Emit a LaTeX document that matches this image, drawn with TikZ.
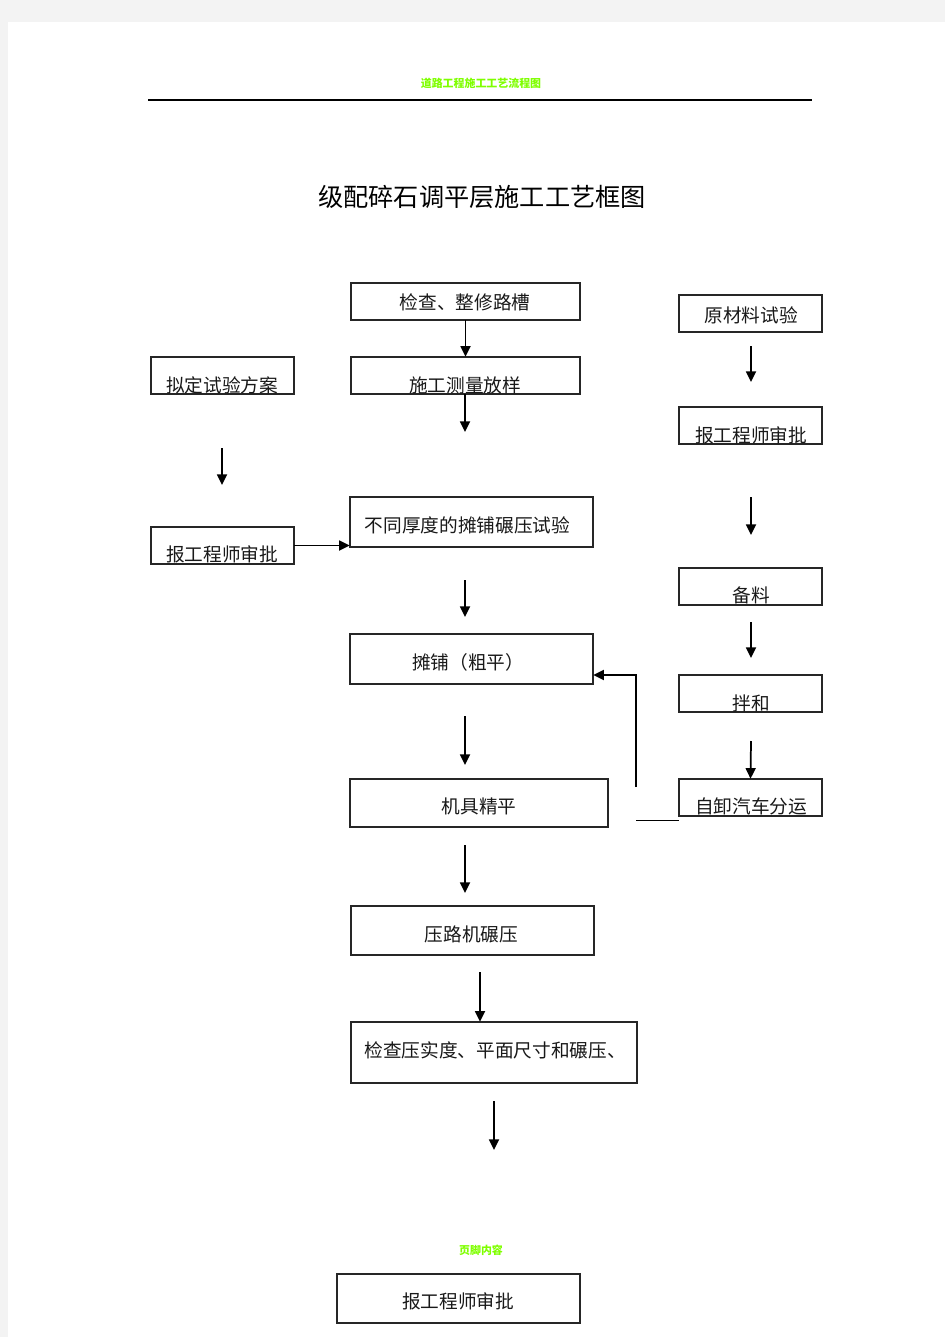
\documentclass[tikz,border=0pt]{standalone}
\usepackage{fontspec}
\setmainfont{Noto Sans CJK SC}
\usetikzlibrary{arrows.meta}
\definecolor{hdrgreen}{HTML}{7FFF00}
\definecolor{pagegray}{HTML}{F3F3F3}
\tikzset{
  boxshape/.style={draw=black!85,line width=0.9pt,fill=white},
  lbl/.style={inner sep=0pt,font=\fontsize{14}{16}\selectfont,text=black!90},
  arr/.style={line width=1.3pt,-{Triangle[width=7.5pt,length=8pt]}},
  hdr/.style={inner sep=0pt,text=hdrgreen,font=\fontsize{8.2}{10}\selectfont\bfseries}
}
\newcommand{\mkbox}[5]{\path[boxshape] (#2,#3) rectangle (#4,#5);
  \node[inner sep=0pt,minimum width={(#4-#2)*0.75pt},minimum height={(#5-#3)*0.75pt}] (#1) at ({(#2+#4)/2},{(#3+#5)/2}) {};}
\begin{document}
\begin{tikzpicture}[x=0.75pt,y=-0.75pt]
\useasboundingbox (0,0) rectangle (945,1337);
\fill[pagegray] (0,0) rectangle (945,1337);
\fill[white] (8,22) rectangle (945,1337);
% header
\node[hdr] (hdr) at (481,83) {道路工程施工工艺流程图};
\draw[line width=0.9pt] (148,100) coordinate (hl) -- (812,100) coordinate (hr);
\node[inner sep=0pt,font=\fontsize{18.9}{22}\selectfont] (title) at (482,197) {级配碎石调平层施工工艺框图};
% boxes
\mkbox{b1}{351}{283}{580}{320}
\mkbox{b2}{351}{357}{580}{394}
\mkbox{b3}{151}{357}{294}{394}
\mkbox{b4}{679}{295}{822}{332}
\mkbox{b5}{679}{407}{822}{444}
\mkbox{b6}{151}{527}{294}{564}
\mkbox{b7}{350}{497}{593}{547}
\mkbox{b8}{679}{568}{822}{605}
\mkbox{b9}{350}{634}{593}{684}
\mkbox{b10}{679}{675}{822}{712}
\mkbox{b11}{350}{779}{608}{827}
\mkbox{b12}{679}{779}{822}{816}
\mkbox{b13}{351}{906}{594}{955}
\mkbox{b14}{351}{1022}{637}{1083}
\mkbox{b15}{337}{1274}{580}{1323}
% labels
\node[lbl] (t1) at (465,302) {检查、整修路槽};
\node[lbl] (t2) at (465,385) {施工测量放样};
\node[lbl] (t3) at (222,385) {拟定试验方案};
\node[lbl] (t4) at (751,315) {原材料试验};
\node[lbl] (t5) at (751,435) {报工程师审批};
\node[lbl] (t6) at (222,554) {报工程师审批};
\node[lbl] (t7) at (467.5,525) {不同厚度的摊铺碾压试验};
\node[lbl] (t8) at (751,595) {备料};
\node[lbl] (t9) at (468,662) {摊铺（粗平）};
\node[lbl] (t10) at (751,703) {拌和};
\node[lbl] (t11) at (479,806) {机具精平};
\node[lbl] (t12) at (751,806) {自卸汽车分运};
\node[lbl] (t13) at (471.5,934) {压路机碾压};
\node[lbl] (t14) at (495,1050) {检查压实度、平面尺寸和碾压、};
\node[lbl] (t15) at (458,1301) {报工程师审批};
\node[hdr] (ftr) at (481,1250) {页脚内容};
% free arrow ends
\coordinate (a1s) at (465,394); \coordinate (a1e) at (465,432);
\coordinate (a2s) at (222,448); \coordinate (a2e) at (222,485);
\coordinate (a3s) at (465,580); \coordinate (a3e) at (465,617);
\coordinate (a4s) at (465,716); \coordinate (a4e) at (465,765);
\coordinate (a5s) at (465,845); \coordinate (a5e) at (465,893);
\coordinate (a6s) at (480,972);
\coordinate (a7s) at (494,1101); \coordinate (a7e) at (494,1150);
\coordinate (r1s) at (751,346); \coordinate (r1e) at (751,382);
\coordinate (r2s) at (751,497); \coordinate (r2e) at (751,535);
\coordinate (r3s) at (751,622); \coordinate (r3e) at (751,658);
\coordinate (r4s) at (751,741);
\coordinate (fbs) at (636,787); \coordinate (fbc) at (636,675);
\coordinate (hls) at (636,820); \coordinate (hle) at (679,820);
% connectors
\draw[arr] (b1.south) -- (b2.south |- b2.north);
\draw[arr] (a1s) -- (a1e);
\draw[arr] (a2s) -- (a2e);
\draw[arr] (b6.east) -- (b7.west |- b6.east);
\draw[arr] (a3s) -- (a3e);
\draw[arr] (a4s) -- (a4e);
\draw[arr] (a5s) -- (a5e);
\draw[arr] (a6s) -- (a6s |- b14.north);
\draw[arr] (a7s) -- (a7e);
\draw[arr] (r1s) -- (r1e);
\draw[arr] (r2s) -- (r2e);
\draw[arr] (r3s) -- (r3e);
\draw[arr] (r4s) -- (b12.north);
\draw[arr,line width=1.6pt] (fbs) -- (fbc) -- (b9.east |- fbc);
\draw[line width=0.7pt] (hls) -- (hle);
\end{tikzpicture}
\end{document}
